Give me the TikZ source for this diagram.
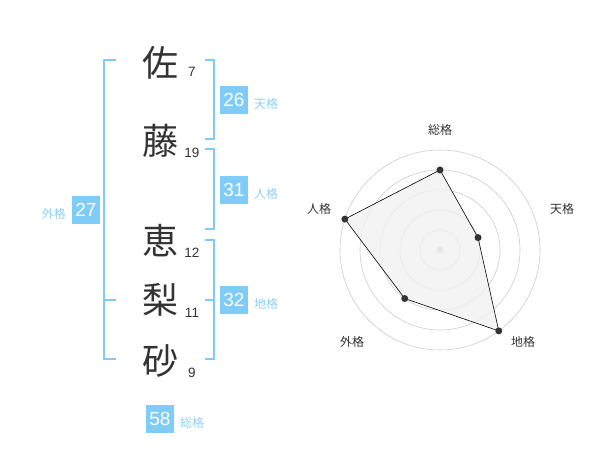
\documentclass[tikz,border=0pt]{standalone}
\usepackage{fontspec}
\setmainfont{Liberation Sans}
\newfontfamily\cjk{Noto Sans CJK JP}
\definecolor{brk}{HTML}{7FCAF6}
\definecolor{boxc}{HTML}{80CCF8}
\definecolor{lab}{HTML}{8ED0F5}
\definecolor{txt}{HTML}{333333}
\definecolor{ring}{HTML}{CCCCCC}
\definecolor{poly}{HTML}{F1F1F1}
\begin{document}
\begin{tikzpicture}[x=1pt,y=-1pt,
  kanji/.style={font=\cjk\fontsize{36}{36}\selectfont, text=txt, inner sep=0pt},
  strokes/.style={font=\fontsize{13.5}{14}\selectfont, text=txt, inner sep=0pt},
  valbox/.style={fill=boxc, text=white, minimum width=28pt, minimum height=28pt, inner sep=0pt, font=\fontsize{19}{19}\selectfont},
  kaku/.style={font=\cjk\fontsize{12}{12}\selectfont, text=lab, inner sep=0pt},
  brack/.style={draw=brk, line width=1.3pt},
  rlab/.style={font=\cjk\fontsize{12}{12}\selectfont, text=txt, inner sep=0pt},
  ringc/.style={draw=ring, line width=0.6pt},
  dot/.style={circle, fill=txt, inner sep=0pt, minimum size=7pt}
]
\useasboundingbox (0,0) rectangle (600,470);
% name characters
\node[kanji] (c1) at (160,63) {佐};
\node[kanji] (c2) at (160,141) {藤};
\node[kanji] (c3) at (160,241) {恵};
\node[kanji] (c4) at (160,300) {梨};
\node[kanji] (c5) at (160,361) {砂};
\node[strokes] (n1) at (192,72) {7};
\node[strokes] (n2) at (192,153) {19};
\node[strokes] (n3) at (192,253) {12};
\node[strokes] (n4) at (192,313) {11};
\node[strokes] (n5) at (192,373) {9};
% brackets
\draw[brack] (205,60) -- (214,60) -- (214,139) -- (205,139);
\draw[brack] (205,149) -- (214,149) -- (214,229) -- (205,229);
\draw[brack] (205,240) -- (214,240) -- (214,359) -- (205,359);
\draw[brack] (205,300) -- (214,300);
\draw[brack] (116,60) -- (104,60) -- (104,359) -- (116,359);
\draw[brack] (104,300) -- (116,300);
% value boxes
\node[valbox] (b1) at (234,100) {26};
\node[kaku, anchor=west] (k1) at (254,104) {天格};
\node[valbox] (b2) at (234,190) {31};
\node[kaku, anchor=west] (k2) at (254,194) {人格};
\node[valbox] (b3) at (234,300) {32};
\node[kaku, anchor=west] (k3) at (254,304) {地格};
\node[valbox] (b4) at (86,210) {27};
\node[kaku, anchor=east] (k4) at (66,214) {外格};
\node[valbox] (b5) at (160,419) {58};
\node[kaku, anchor=west] (k5) at (180,423) {総格};
% radar
\coordinate (o) at (440,250);
\foreach \r in {20,40,60,80,100} \draw[ringc] (o) circle[radius=\r];
\fill[ring] (o) circle[radius=3.5];
\path (o) ++(-90:80) coordinate (p1);
\path (o) ++(-18:40) coordinate (p2);
\path (o) ++(54:100) coordinate (p3);
\path (o) ++(126:60) coordinate (p4);
\path (o) ++(198:100) coordinate (p5);
\draw[fill=poly, fill opacity=0.8, draw=black, line width=0.6pt] (p1) -- (p2) -- (p3) -- (p4) -- (p5) -- cycle;
\foreach \p in {p1,p2,p3,p4,p5} \node[dot] at (\p) {};
\node[rlab] (l1) at (440,130) {総格};
\node[rlab] (l2) at (562,209) {天格};
\node[rlab] (l3) at (523,342) {地格};
\node[rlab] (l4) at (352,342) {外格};
\node[rlab] (l5) at (319,209) {人格};
\end{tikzpicture}
\end{document}
